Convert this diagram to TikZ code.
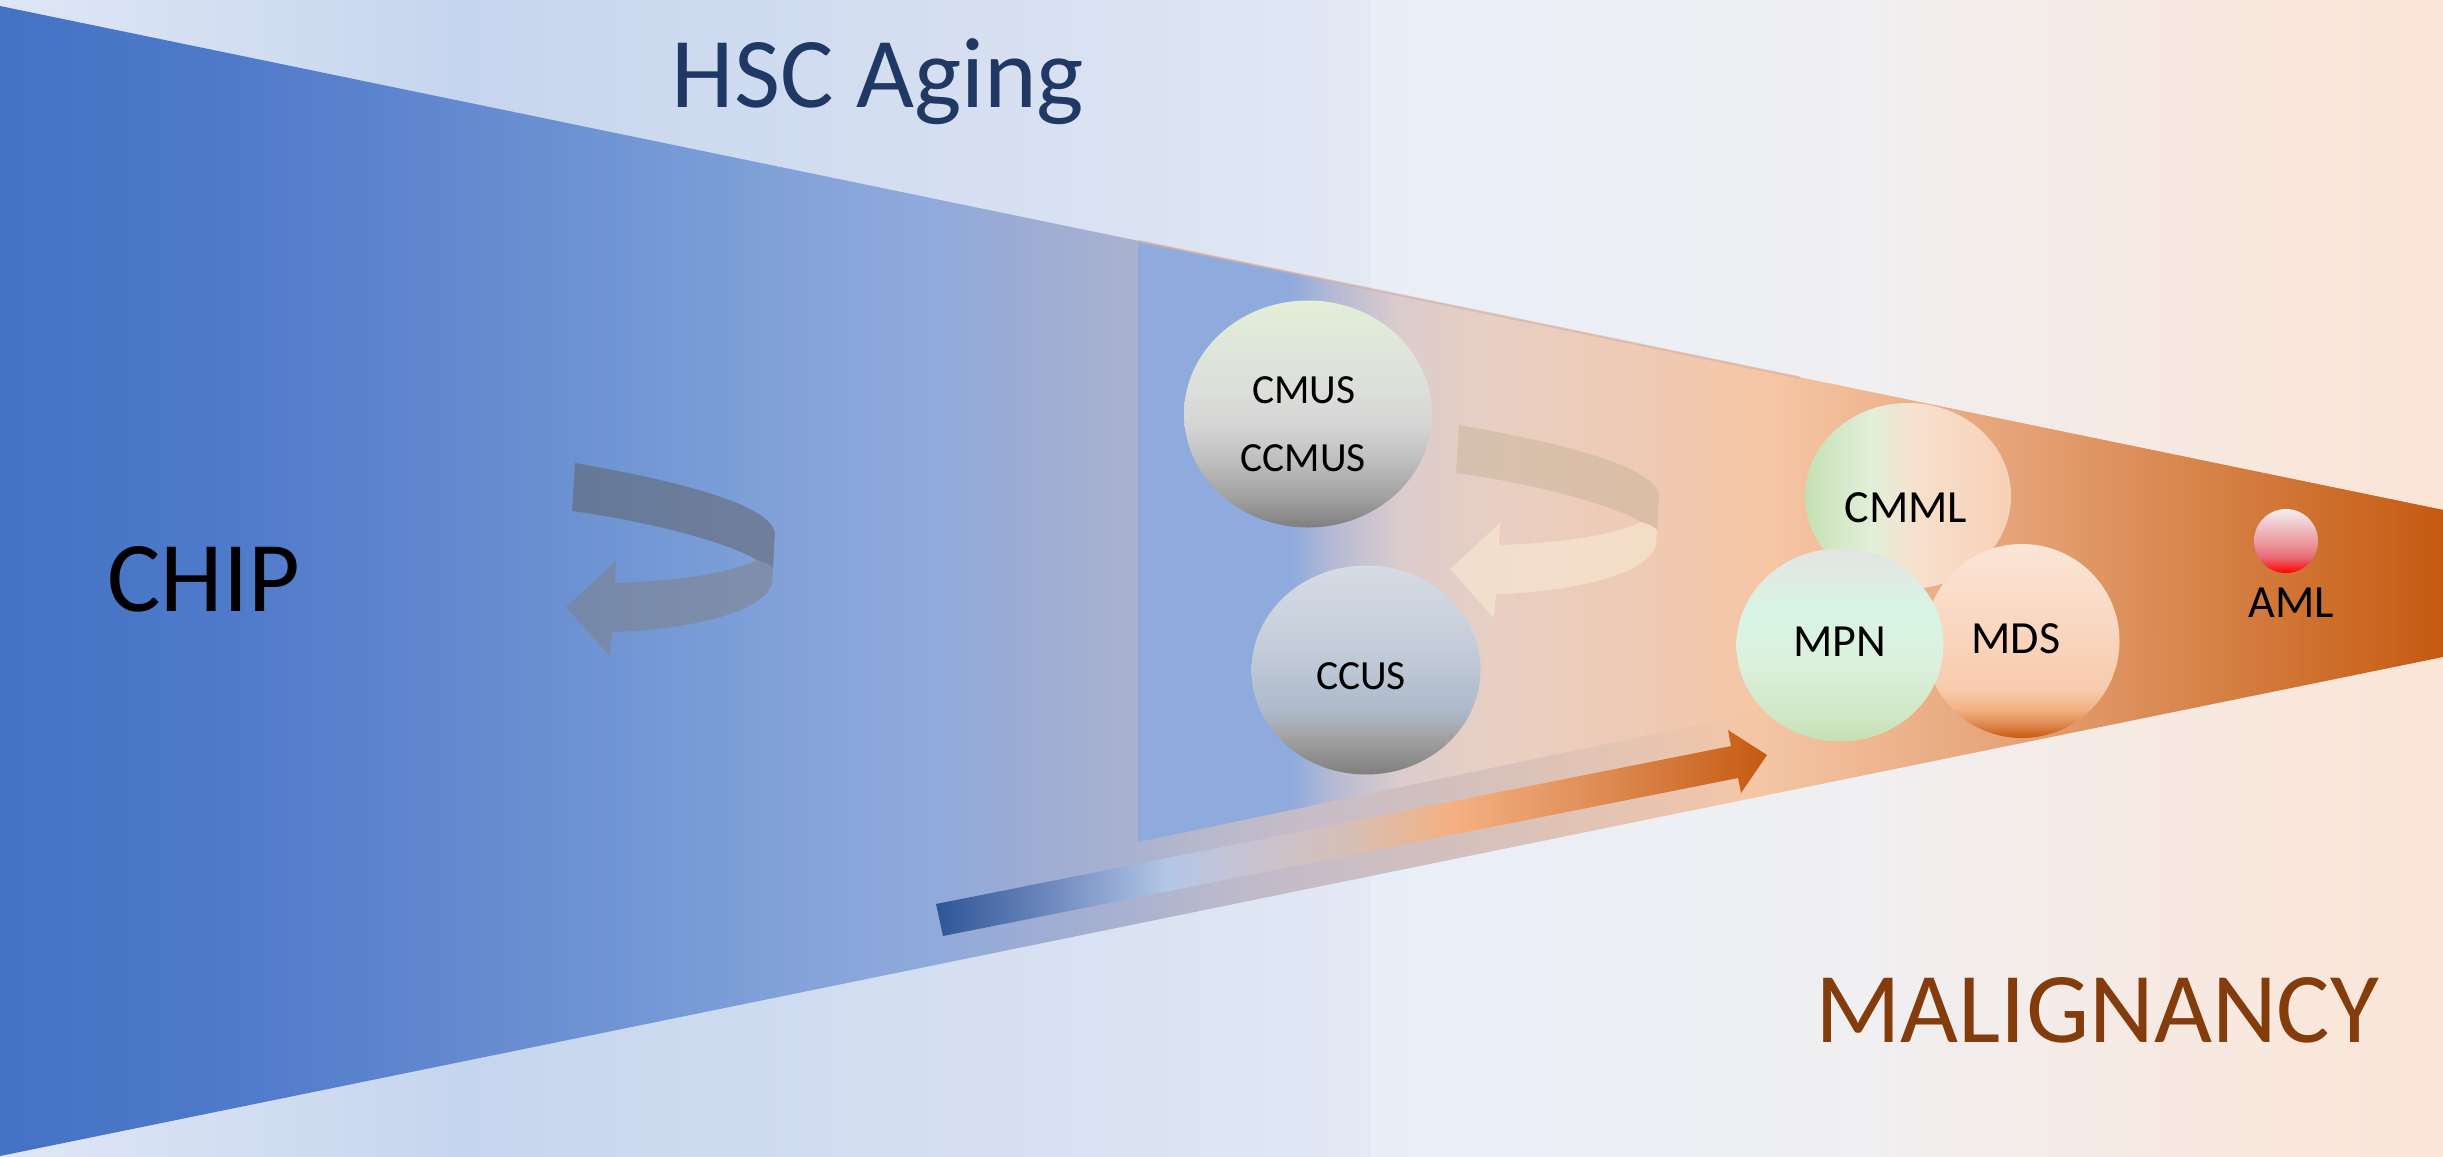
\documentclass[tikz,border=0pt]{standalone}
\usepackage{fontspec}
\setmainfont{Carlito}
\usetikzlibrary{shapes.geometric}

% palette
\definecolor{hscnavy}{HTML}{203864}
\definecolor{malbrown}{HTML}{843C0C}

% background panels
\pgfdeclarehorizontalshading{bgleft}{100bp}{
  color(0bp)=(rgb,255:red,223;green,231;blue,245);
  color(25bp)=(rgb,255:red,223;green,231;blue,245);
  color(41.8bp)=(rgb,255:red,198;green,213;blue,238);
  color(67bp)=(rgb,255:red,219;green,227;blue,242);
  color(75bp)=(rgb,255:red,227;green,233;blue,245);
  color(100bp)=(rgb,255:red,227;green,233;blue,245)}
\pgfdeclarehorizontalshading{bgright}{100bp}{
  color(0bp)=(rgb,255:red,232;green,238;blue,248);
  color(25bp)=(rgb,255:red,232;green,238;blue,248);
  color(48.2bp)=(rgb,255:red,240;green,239;blue,241);
  color(62.7bp)=(rgb,255:red,247;green,233;blue,225);
  color(75bp)=(rgb,255:red,251;green,229;blue,214);
  color(100bp)=(rgb,255:red,251;green,229;blue,214)}

% the wide funnel
\pgfdeclarehorizontalshading{outerfan}{100bp}{
  color(0bp)=(rgb,255:red,68;green,114;blue,196);
  color(25bp)=(rgb,255:red,68;green,114;blue,196);
  color(29.7bp)=(rgb,255:red,79;green,122;blue,203);
  color(34.4bp)=(rgb,255:red,99;green,137;blue,207);
  color(39.1bp)=(rgb,255:red,119;green,155;blue,214);
  color(42.2bp)=(rgb,255:red,136;green,165;blue,218);
  color(44bp)=(rgb,255:red,143;green,170;blue,220);
  color(45.4bp)=(rgb,255:red,152;green,171;blue,214);
  color(48.3bp)=(rgb,255:red,171;green,178;blue,207);
  color(49.6bp)=(rgb,255:red,183;green,184;blue,204);
  color(51.6bp)=(rgb,255:red,198;green,188;blue,200);
  color(54.7bp)=(rgb,255:red,211;green,192;blue,189);
  color(56.7bp)=(rgb,255:red,221;green,195;blue,182);
  color(58.8bp)=(rgb,255:red,232;green,197;blue,177);
  color(61bp)=(rgb,255:red,245;green,198;blue,165);
  color(66.6bp)=(rgb,255:red,228;green,160;blue,115);
  color(69.5bp)=(rgb,255:red,217;green,136;blue,79);
  color(75bp)=(rgb,255:red,197;green,90;blue,17);
  color(100bp)=(rgb,255:red,197;green,90;blue,17)}

% the narrow funnel laid over it
\pgfdeclarehorizontalshading{innerfan}{100bp}{
  color(0bp)=(rgb,255:red,143;green,170;blue,220);
  color(25bp)=(rgb,255:red,143;green,170;blue,220);
  color(30.85bp)=(rgb,255:red,143;green,170;blue,220);
  color(32.45bp)=(rgb,255:red,181;green,186;blue,212);
  color(35bp)=(rgb,255:red,220;green,204;blue,204);
  color(38.9bp)=(rgb,255:red,232;green,207;blue,194);
  color(44.15bp)=(rgb,255:red,239;green,202;blue,180);
  color(49.2bp)=(rgb,255:red,246;green,198;blue,165);
  color(59.25bp)=(rgb,255:red,228;green,160;blue,115);
  color(64.7bp)=(rgb,255:red,217;green,136;blue,79);
  color(75bp)=(rgb,255:red,197;green,90;blue,17);
  color(100bp)=(rgb,255:red,197;green,90;blue,17)}

% progression arrow
\pgfdeclarehorizontalshading{riseshade}{100bp}{
  color(0bp)=(rgb,255:red,47;green,85;blue,151);
  color(25bp)=(rgb,255:red,47;green,85;blue,151);
  color(31.5bp)=(rgb,255:red,106;green,134;blue,187);
  color(39bp)=(rgb,255:red,180;green,199;blue,231);
  color(43.5bp)=(rgb,255:red,199;green,195;blue,211);
  color(50bp)=(rgb,255:red,215;green,191;blue,181);
  color(56bp)=(rgb,255:red,244;green,177;blue,131);
  color(64.5bp)=(rgb,255:red,224;green,142;blue,87);
  color(75bp)=(rgb,255:red,197;green,90;blue,17);
  color(100bp)=(rgb,255:red,197;green,90;blue,17)}

% disease blobs
\pgfdeclareverticalshading{cmusshade}{100bp}{
  color(0bp)=(rgb,255:red,127;green,127;blue,127);
  color(25bp)=(rgb,255:red,127;green,127;blue,127);
  color(31.5bp)=(rgb,255:red,160;green,160;blue,160);
  color(40bp)=(rgb,255:red,191;green,191;blue,191);
  color(47.5bp)=(rgb,255:red,213;green,213;blue,213);
  color(55bp)=(rgb,255:red,220;green,222;blue,218);
  color(75bp)=(rgb,255:red,226;green,239;blue,217);
  color(100bp)=(rgb,255:red,226;green,239;blue,217)}
\pgfdeclareverticalshading{ccusshade}{100bp}{
  color(0bp)=(rgb,255:red,127;green,127;blue,127);
  color(25bp)=(rgb,255:red,127;green,127;blue,127);
  color(35bp)=(rgb,255:red,166;green,166;blue,166);
  color(40bp)=(rgb,255:red,173;green,185;blue,202);
  color(55bp)=(rgb,255:red,195;green,204;blue,217);
  color(75bp)=(rgb,255:red,214;green,220;blue,229);
  color(100bp)=(rgb,255:red,214;green,220;blue,229)}
\pgfdeclareverticalshading{mpnshade}{100bp}{
  color(0bp)=(rgb,255:red,197;green,224;blue,180);
  color(25bp)=(rgb,255:red,197;green,224;blue,180);
  color(32bp)=(rgb,255:red,208;green,232;blue,198);
  color(45bp)=(rgb,255:red,220;green,240;blue,220);
  color(58bp)=(rgb,255:red,216;green,245;blue,227);
  color(75bp)=(rgb,255:red,227;green,228;blue,226);
  color(100bp)=(rgb,255:red,227;green,228;blue,226)}
\pgfdeclareverticalshading{mdsshade}{100bp}{
  color(0bp)=(rgb,255:red,197;green,90;blue,17);
  color(25bp)=(rgb,255:red,197;green,90;blue,17);
  color(29bp)=(rgb,255:red,224;green,142;blue,85);
  color(32.5bp)=(rgb,255:red,244;green,177;blue,131);
  color(37.5bp)=(rgb,255:red,248;green,203;blue,173);
  color(55bp)=(rgb,255:red,249;green,216;blue,194);
  color(75bp)=(rgb,255:red,251;green,229;blue,214);
  color(100bp)=(rgb,255:red,251;green,229;blue,214)}
\pgfdeclareverticalshading{amlshade}{100bp}{
  color(0bp)=(rgb,255:red,255;green,0;blue,0);
  color(25bp)=(rgb,255:red,255;green,0;blue,0);
  color(37.5bp)=(rgb,255:red,232;green,108;blue,116);
  color(50bp)=(rgb,255:red,236;green,156;blue,163);
  color(75bp)=(rgb,255:red,244;green,238;blue,240);
  color(100bp)=(rgb,255:red,244;green,238;blue,240)}
\pgfdeclarehorizontalshading{cmmlshade}{100bp}{
  color(0bp)=(rgb,255:red,197;green,224;blue,180);
  color(25bp)=(rgb,255:red,197;green,224;blue,180);
  color(41bp)=(rgb,255:red,226;green,239;blue,217);
  color(52.5bp)=(rgb,255:red,247;green,224;blue,205);
  color(75bp)=(rgb,255:red,248;green,208;blue,181);
  color(100bp)=(rgb,255:red,248;green,208;blue,181)}

\tikzset{
  blob/.style={ellipse, shade, draw=none, inner sep=0pt, outer sep=0pt},
  biglabel/.style={anchor=base, inner sep=0pt, font=\fontsize{28.5}{34}\selectfont},
  smalllabel/.style={anchor=base, inner sep=0pt, font=\fontsize{11.8}{14}\selectfont},
  midlabel/.style={anchor=base, inner sep=0pt, font=\fontsize{13.1}{16}\selectfont},
  % self-renewal ribbon arrows
  leftback/.style={fill={rgb,255:red,96;green,96;blue,96}, fill opacity=0.5},
  leftfront/.style={fill={rgb,255:red,128;green,128;blue,128}, fill opacity=0.5},
  rightback/.style={fill={rgb,255:red,200;green,180;blue,154}, fill opacity=0.5},
  rightfront/.style={fill={rgb,255:red,248;green,234;blue,212}, fill opacity=0.6},
  pics/twist/.style 2 args={code={
    \fill[#1] (0,0) .. controls (80,14) and (195,38) .. (200,70)
      -- (198,105) .. controls (192,100) .. (182,97)
      .. controls (150,78) and (70,58) .. (-3,48) -- cycle;
    \fill[#2] (198,105) -- (197,120)
      .. controls (190,150) and (110,167) .. (37,169)
      -- (35,193) -- (-9,144) -- (41,98) -- (40,120)
      .. controls (110,118) and (160,108) .. (182,97)
      .. controls (192,100) .. (198,105) -- cycle;
  }}
}

\begin{document}
\begin{tikzpicture}[x=0.1mm, y=-0.1mm]
\useasboundingbox (0,0) rectangle (2443,1156);

% background
\shade[shading=bgleft] (0,0) rectangle (1371,1156);
\shade[shading=bgright] (1371,0) rectangle (2443,1156);

% funnels
\shade[shading=outerfan] (0,6) -- (2443,510) -- (2443,657) -- (0,1156) -- cycle;
\shade[shading=innerfan] (1138,241) -- (2443,510) -- (2443,568.6) -- (1138,842) -- cycle;
\draw[line width=0.25mm, draw={rgb,255:red,214;green,176;blue,166}, draw opacity=0.6]
  (1138,241) -- (1800,377.7);

% self-renewal arrows
\pic at (575,463) {twist={leftback}{leftfront}};
\pic at (1459,425) {twist={rightback}{rightfront}};

% progression arrow
\coordinate (riseA) at (936,904);
\coordinate (riseB) at (1731,746);
\coordinate (riseC) at (1728,730);
\coordinate (riseTip) at (1767,755);
\coordinate (riseD) at (1741,793);
\coordinate (riseE) at (1738,778);
\coordinate (riseF) at (943,936);
\shade[shading=riseshade] (riseA) -- (riseB) -- (riseC) -- (riseTip)
  -- (riseD) -- (riseE) -- (riseF) -- cycle;

% precursor states
\node[blob, shading=cmusshade, minimum width=24.8mm, minimum height=22.7mm] (cmus) at (1308,414) {};
\node[blob, shading=ccusshade, minimum width=22.9mm, minimum height=20.9mm] (ccus) at (1366,670) {};

% myeloid neoplasms
\node[blob, shading=cmmlshade, minimum width=20.6mm, minimum height=18.6mm] (cmml) at (1908,496) {};
\node[blob, shading=mdsshade, minimum width=19.5mm, minimum height=19.4mm] (mds) at (2022,641) {};
\node[blob, shading=mpnshade, minimum width=20.7mm, minimum height=19.3mm] (mpn) at (1840,645) {};
\node[blob, shading=amlshade, minimum width=6.4mm, minimum height=6.4mm] (aml) at (2286,541) {};

% labels
\node[biglabel, text=hscnavy] (hsc) at (878,107) {HSC Aging};
\node[biglabel] (chip) at (204,611) {CHIP};
\node[biglabel, text=malbrown] (malig) at (2097,1042) {MALIGNANCY};

\node[smalllabel] (cmustext) at (1304,403) {CMUS};
\node[smalllabel] (ccmustext) at (1303,471) {CCMUS};
\node[smalllabel] (ccustext) at (1361,689) {CCUS};
\node[midlabel] (cmmltext) at (1906,522) {CMML};
\node[midlabel] (mpntext) at (1840,656) {MPN};
\node[midlabel] (mdstext) at (2016,653) {MDS};
\node[midlabel] (amltext) at (2291,617) {AML};
\end{tikzpicture}
\end{document}
